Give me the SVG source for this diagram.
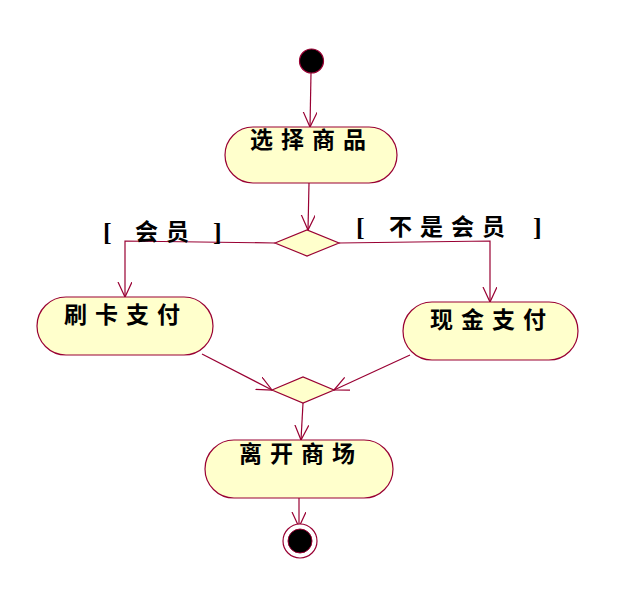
<svg xmlns="http://www.w3.org/2000/svg" width="628" height="605" viewBox="0 0 628 605">
<style>
.n{fill:#FFFFCC;stroke:#990033;stroke-width:1.2}
.e{fill:none;stroke:#990033;stroke-width:1.2}
.t{font-family:"Noto Sans CJK SC","Liberation Serif",serif;font-weight:bold;font-size:23px;fill:#000;letter-spacing:8px}
.b{font-family:"Liberation Serif",serif;font-weight:bold;font-size:26px;fill:#000}
</style>
<defs>
<marker id="a" markerUnits="userSpaceOnUse" markerWidth="20" markerHeight="16" refX="15" refY="7" orient="auto">
<path d="M0,0 L15,7 L0,14" fill="none" stroke="#990033" stroke-width="1.2"/>
</marker>
</defs>
<rect width="628" height="605" fill="#fff"/>
<g id="edges">
<line class="e" x1="311" y1="73" x2="310" y2="127" marker-end="url(#a)"/>
<line class="e" x1="309" y1="183" x2="308" y2="230" marker-end="url(#a)"/>
<polyline class="e" points="275,243 125,241 125,297" marker-end="url(#a)"/>
<polyline class="e" points="339,243 490,241 490,302" marker-end="url(#a)"/>
<line class="e" x1="202" y1="354" x2="272" y2="390" marker-end="url(#a)"/>
<line class="e" x1="410" y1="355" x2="334" y2="390" marker-end="url(#a)"/>
<line class="e" x1="303" y1="403" x2="301" y2="440" marker-end="url(#a)"/>
<line class="e" x1="299" y1="498" x2="299" y2="527" marker-end="url(#a)"/>
</g>
<g id="guard1">
<text class="b" x="103" y="241">[</text>
<text class="t" x="135" y="240">会员</text>
<text class="b" x="213" y="241">]</text>
</g>
<g id="guard2">
<text class="b" x="356" y="236">[</text>
<text class="t" x="389" y="235">不是会员</text>
<text class="b" x="533" y="236">]</text>
</g>
<g id="start">
<circle cx="311.5" cy="61" r="12" fill="#000" stroke="#990033" stroke-width="1.2"/>
</g>
<g id="select">
<rect class="n" x="225" y="127" width="172" height="56" rx="28" ry="28"/>
<text class="t" x="250" y="148">选择商品</text>
</g>
<g id="decision">
<polygon class="n" points="275,243 307,230 339,243 307,256"/>
</g>
<g id="card">
<rect class="n" x="37" y="297" width="176" height="58" rx="29" ry="29"/>
<text class="t" x="64" y="323">刷卡支付</text>
</g>
<g id="cash">
<rect class="n" x="403" y="302" width="175" height="58" rx="29" ry="29"/>
<text class="t" x="430" y="328">现金支付</text>
</g>
<g id="merge">
<polygon class="n" points="272,390 303,377 334,390 303,403"/>
</g>
<g id="leave">
<rect class="n" x="205" y="440" width="188" height="58" rx="29" ry="29"/>
<text class="t" x="239" y="462">离开商场</text>
</g>
<g id="end">
<circle cx="300" cy="541" r="17" fill="#fff" stroke="#990033" stroke-width="1.2"/>
<circle cx="300" cy="541" r="12" fill="#000" stroke="#990033" stroke-width="1"/>
</g>
</svg>
